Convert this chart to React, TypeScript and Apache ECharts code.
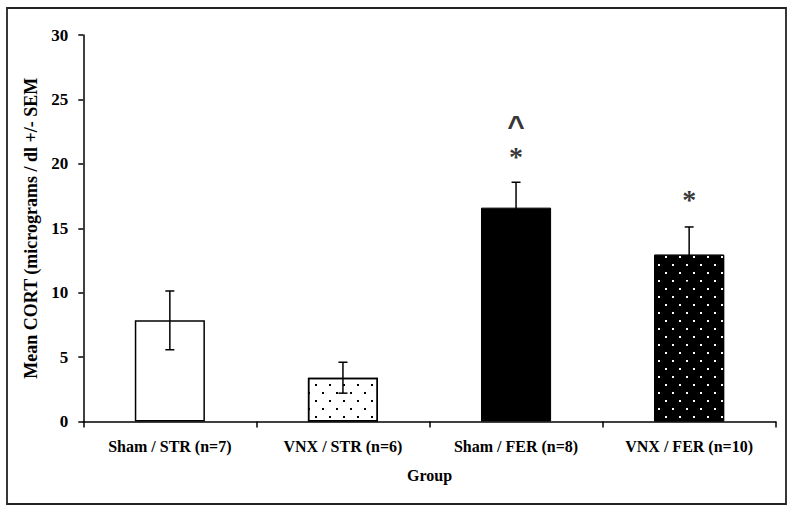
import React, { useEffect, useRef } from "react";
import * as echarts from "echarts";

const categories = ["Sham / STR (n=7)", "VNX / STR (n=6)", "Sham / FER (n=8)", "VNX / FER (n=10)"];
const means = [7.85, 3.4, 16.6, 12.95];
const sems = [2.28, 1.2, 1.97, 2.15];
const yTicks = [0, 5, 10, 15, 20, 25, 30];
const annotationCats = [2, 2, 3];
const annotationVals = [22.95, 20.6, 17.2];
const annotationTexts = ["^", "*", "*"];

const FONT = "'Liberation Serif', 'Times New Roman', serif";
const SANS = "'Liberation Sans', Arial, sans-serif";

export default function App() {
  const ref = useRef<HTMLDivElement>(null);
  useEffect(() => {
    if (!ref.current) return;
    const chart = echarts.init(ref.current, undefined, { renderer: "svg" });

    const dotDecal = (color: string) => ({
      symbol: "rect",
      symbolSize: 1,
      color,
      dashArrayX: [
        [1.5, 11.2],
        [0, 6.35, 1.5, 4.85],
      ],
      dashArrayY: [1.5, 5.37],
      rotation: 0,
    });

    const barStyles = [
      { color: "#ffffff", borderColor: "#000", borderWidth: 1.5 },
      { color: "#ffffff", borderColor: "#000", borderWidth: 1.5, decal: dotDecal("#000") },
      { color: "#000000", borderColor: "#000", borderWidth: 1 },
      { color: "#000000", borderColor: "#000", borderWidth: 1, decal: dotDecal("#ffffff") },
    ];

    const annotationLabelStyles = [
      { fontFamily: SANS, fontSize: 30, fontWeight: "bold" },
      { fontFamily: FONT, fontSize: 28, fontWeight: "bold" },
      { fontFamily: FONT, fontSize: 28, fontWeight: "bold" },
    ];

    const option: any = {
      animation: false,
      backgroundColor: "#ffffff",
      grid: { left: 83.3, right: 19.3, top: 35, bottom: 91.5, containLabel: false },
      graphic: [
        {
          type: "rect",
          shape: { x: 7, y: 8, width: 779, height: 496 },
          style: { fill: "none", stroke: "#222", lineWidth: 1.8 },
          silent: true,
          z: 100,
        },
      ],
      xAxis: {
        type: "category",
        data: categories,
        name: "Group",
        nameLocation: "middle",
        nameGap: 45.5,
        nameTextStyle: { fontFamily: FONT, fontWeight: "bold", fontSize: 16, color: "#000" },
        axisLine: { lineStyle: { color: "#000", width: 1.5 } },
        axisTick: { show: true, length: 6, lineStyle: { color: "#000", width: 1.5 } },
        axisLabel: {
          fontFamily: FONT,
          fontWeight: "bold",
          fontSize: 16,
          color: "#000",
          margin: 17,
          interval: 0,
        },
        splitLine: { show: false },
      },
      yAxis: {
        type: "value",
        min: 0,
        max: 30,
        interval: 5,
        name: "Mean CORT (micrograms / dl +/- SEM",
        nameLocation: "middle",
        nameGap: 37,
        nameRotate: 90,
        nameTextStyle: { fontFamily: FONT, fontWeight: "bold", fontSize: 18, color: "#000" },
        axisLine: { show: true, lineStyle: { color: "#000", width: 1.5 } },
        axisTick: { show: true, length: 5, lineStyle: { color: "#000", width: 1.5 } },
        axisLabel: {
          fontFamily: FONT,
          fontWeight: "bold",
          fontSize: 17,
          color: "#000",
          margin: 15,
          formatter: (v: number) => (yTicks.includes(v) ? String(v) : ""),
        },
        splitLine: { show: false },
      },
      series: [
        {
          type: "bar",
          barWidth: "40.5%",
          data: means.map((v, i) => ({ value: v, itemStyle: barStyles[i] })),
          z: 2,
        },
        {
          type: "custom",
          data: means.map((m, i) => [i, m - sems[i], m + sems[i]]),
          z: 3,
          renderItem: (params: any, api: any) => {
            const x = api.value(0);
            const lo = api.coord([x, api.value(1)]);
            const hi = api.coord([x, api.value(2)]);
            const hw = 4.5;
            const style = { stroke: "#000", lineWidth: 1.5 };
            return {
              type: "group",
              children: [
                { type: "line", shape: { x1: hi[0], y1: hi[1], x2: lo[0], y2: lo[1] }, style },
                { type: "line", shape: { x1: hi[0] - hw, y1: hi[1], x2: hi[0] + hw, y2: hi[1] }, style },
                { type: "line", shape: { x1: lo[0] - hw, y1: lo[1], x2: lo[0] + hw, y2: lo[1] }, style },
              ],
            };
          },
        },
        {
          type: "scatter",
          symbolSize: 0,
          z: 4,
          data: annotationVals.map((v, i) => ({
            value: [annotationCats[i], v, annotationTexts[i]],
            label: annotationLabelStyles[i],
          })),
          label: {
            show: true,
            position: "inside",
            formatter: (p: any) => p.value[2],
            fontFamily: FONT,
            fontWeight: "bold",
            fontSize: 28,
            color: "#000",
          },
        },
      ],
    };
    chart.setOption(option);
    return () => chart.dispose();
  }, []);

  return (
    <div
      ref={ref}
      style={{ position: "fixed", left: 0, top: 0, width: 795, height: 513, background: "#fff" }}
    />
  );
}
